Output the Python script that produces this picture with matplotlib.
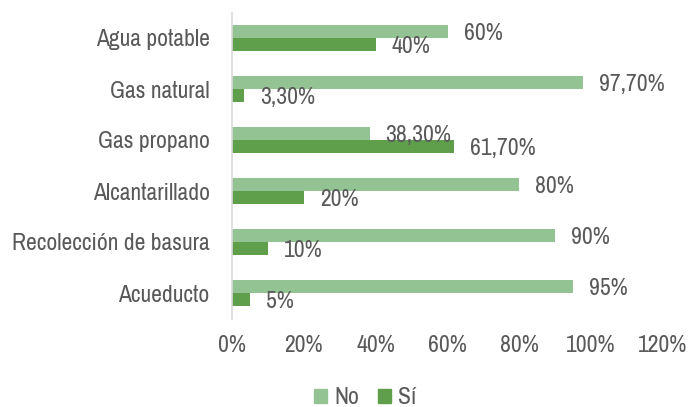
import matplotlib
matplotlib.use("Agg")
import matplotlib.pyplot as plt
from matplotlib.patches import Patch
import numpy as np

categories = ["Agua potable", "Gas natural", "Gas propano", "Alcantarillado",
              "Recolección de basura", "Acueducto"]
no_vals = [60, 97.7, 38.3, 80, 90, 95]
si_vals = [40, 3.3, 61.7, 20, 10, 5]
no_labels = ["60%", "97,70%", "38,30%", "80%", "90%", "95%"]
si_labels = ["40%", "3,30%", "61,70%", "20%", "10%", "5%"]
xticks = [0, 20, 40, 60, 80, 100, 120]
xtick_labels = ["0%", "20%", "40%", "60%", "80%", "100%", "120%"]

FONT = ["Archivo Narrow", "Liberation Sans", "DejaVu Sans"]
plt.rcParams["font.family"] = FONT
TXT = "#595959"
C_NO = "#94C393"
C_SI = "#5F9E4A"
FS = 17

W, H = 691, 407
fig = plt.figure(figsize=(W / 100, H / 100), dpi=100)
ax = fig.add_axes([232 / W, 1 - 318.5 / H, (663 - 232) / W, (318.5 - 12.5) / H])

y = np.arange(len(categories))
bh = 13 / 51
ax.barh(y - bh / 2, no_vals, height=bh, color=C_NO, label="No")
ax.barh(y + bh / 2, si_vals, height=bh, color=C_SI, label="Sí")

px = 120 / (663 - 232)
for i in range(len(categories)):
    ax.text(no_vals[i] + 16 * px, y[i] - bh / 2 + 0.04, no_labels[i], ha="left", va="center",
            fontsize=FS, color=TXT)
    ax.text(si_vals[i] + 16 * px, y[i] + bh / 2 + 0.04, si_labels[i], ha="left", va="center",
            fontsize=FS, color=TXT)

ax.set_xlim(0, 120)
ax.set_ylim(len(categories) - 0.5, -0.5)
ax.set_yticks(y)
ax.set_yticklabels(categories, fontsize=FS, color=TXT)
ax.set_xticks(xticks)
ax.set_xticklabels(xtick_labels, fontsize=FS, color=TXT)
ax.tick_params(axis="both", length=0)
ax.tick_params(axis="y", pad=16)
ax.tick_params(axis="x", pad=12)
for s in ["top", "right", "bottom"]:
    ax.spines[s].set_visible(False)
ax.spines["left"].set_color("#D9D9D9")
ax.spines["left"].set_linewidth(1.2)

handles = [Patch(color=C_NO, label="No"), Patch(color=C_SI, label="Sí")]
fig.legend(handles=handles, loc="center", bbox_to_anchor=(365 / W, 1 - 398 / H), ncol=2,
           frameon=False, fontsize=FS, handlelength=0.55, handleheight=0.55,
           handletextpad=0.3, columnspacing=0.8, labelcolor=TXT)

fig.savefig("out.png", dpi=100)
